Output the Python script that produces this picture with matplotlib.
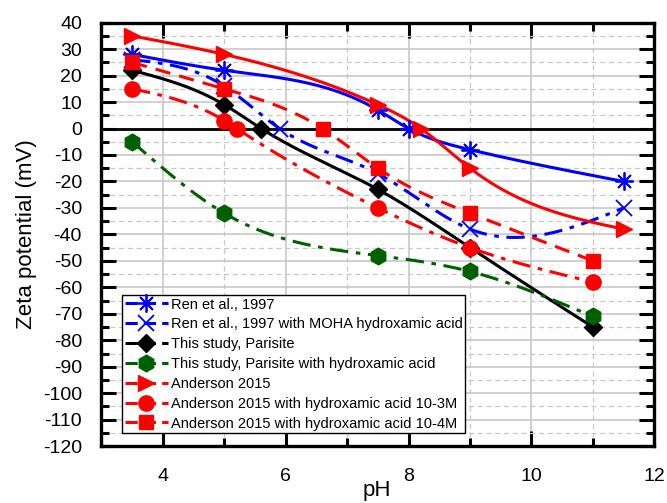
import numpy as np
import matplotlib
matplotlib.use("Agg")
import matplotlib.pyplot as plt
from matplotlib.ticker import MultipleLocator

plt.rcParams['font.family'] = ['Liberation Sans', 'DejaVu Sans']
plt.rcParams['axes.unicode_minus'] = False

# ---- data ----
ren_ph = [3.5, 5.0, 7.5, 8.0, 9.0, 11.5]
ren_zp = [28, 22, 7, 0, -8, -20]

moha_ph = [3.5, 5.0, 5.9, 7.5, 9.0, 11.5]
moha_zp = [26, 16, 0, -17, -38, -30]

par_ph = [3.5, 5.0, 5.6, 7.5, 9.0, 11.0]
par_zp = [22, 9, 0, -23, -45, -75]

parh_ph = [3.5, 5.0, 7.5, 9.0, 11.0]
parh_zp = [-5, -32, -48, -54, -71]

and_ph = [3.5, 5.0, 7.5, 8.2, 9.0, 11.5]
and_zp = [35, 28, 9, 0, -15, -38]

and3_ph = [3.5, 5.0, 5.2, 7.5, 9.0, 11.0]
and3_zp = [15, 3, 0, -30, -45, -58]

and4_ph = [3.5, 5.0, 6.6, 7.5, 9.0, 11.0]
and4_zp = [25, 15, 0, -15, -32, -50]

labels = ["Ren et al., 1997",
          "Ren et al., 1997 with MOHA hydroxamic acid",
          "This study, Parisite",
          "This study, Parisite with hydroxamic acid",
          "Anderson 2015",
          "Anderson 2015 with hydroxamic acid 10-3M",
          "Anderson 2015 with hydroxamic acid 10-4M"]


def natural_spline(x, y, n=300):
    x = np.asarray(x, float)
    y = np.asarray(y, float)
    m = len(x)
    h = np.diff(x)
    A = np.zeros((m, m))
    b = np.zeros(m)
    A[0, 0] = 1
    A[-1, -1] = 1
    for i in range(1, m - 1):
        A[i, i - 1] = h[i - 1]
        A[i, i] = 2 * (h[i - 1] + h[i])
        A[i, i + 1] = h[i]
        b[i] = 6 * ((y[i + 1] - y[i]) / h[i] - (y[i] - y[i - 1]) / h[i - 1])
    M = np.linalg.solve(A, b)
    xs = np.linspace(x[0], x[-1], n)
    idx = np.clip(np.searchsorted(x, xs) - 1, 0, m - 2)
    x0, x1 = x[idx], x[idx + 1]
    hh = x1 - x0
    a = (x1 - xs) / hh
    bb = (xs - x0) / hh
    ys = (a * y[idx] + bb * y[idx + 1]
          + ((a ** 3 - a) * M[idx] + (bb ** 3 - bb) * M[idx + 1]) * hh ** 2 / 6)
    return xs, ys


fig = plt.figure(figsize=(6.67, 5.03), dpi=100)
ax = fig.add_axes([0.152, 0.113, 0.829, 0.842])

blue = '#0000FF'
red = '#FF0000'
green = '#006000'
dashdot = (0, (6, 2.5, 1.5, 2.5))

series = [
    (ren_ph, ren_zp, blue, '-', (8, 2, 0), 13, labels[0], 1.3),
    (moha_ph, moha_zp, blue, dashdot, 'x', 11, labels[1], 1.3),
    (par_ph, par_zp, 'black', '-', 'D', 9, labels[2], None),
    (parh_ph, parh_zp, green, dashdot, 'h', 12, labels[3], None),
    (and_ph, and_zp, red, '-', '>', 12, labels[4], None),
    (and3_ph, and3_zp, red, dashdot, 'o', 11, labels[5], None),
    (and4_ph, and4_zp, red, (0, (5, 3)), 's', 10, labels[6], None),
]

ax.axhline(0, color='black', lw=2, zorder=2)

handles = []
for i, (xs, ys, c, ls, mk, ms, lab, mew) in enumerate(series):
    sx, sy = natural_spline(xs, ys)
    ax.plot(sx, sy, color=c, ls=ls, lw=2.2, zorder=3 + i * 0.1)
    kw = dict(markeredgewidth=mew) if mew else {}
    ax.plot(xs, ys, ls='none', marker=mk, ms=ms, color=c, zorder=5 + i * 0.1, **kw)
    h, = ax.plot([], [], color=c, ls=(0, (4, 2)), lw=2.2, marker=mk, ms=ms,
                 label=lab, **kw)
    handles.append(h)

ax.set_xlim(3, 12)
ax.set_ylim(-120, 40)
ax.xaxis.set_major_locator(MultipleLocator(2))
ax.xaxis.set_minor_locator(MultipleLocator(1))
ax.yaxis.set_major_locator(MultipleLocator(10))
ax.yaxis.set_minor_locator(MultipleLocator(5))

ax.grid(which='major', color='#c4c4c4', lw=1.1, ls='-', zorder=0)
ax.grid(which='minor', color='#c8c8c8', lw=0.9, ls=(0, (4, 3)), zorder=0)
ax.set_axisbelow(True)

ax.tick_params(which='both', direction='in', top=True, right=True, width=2.2,
               labelsize=14)
ax.tick_params(which='major', length=11)
ax.tick_params(which='minor', length=6)
ax.tick_params(axis='y', which='both', pad=14)
ax.tick_params(axis='x', which='both', pad=16)
for s in ax.spines.values():
    s.set_linewidth(2.4)

ax.set_ylabel('Zeta potential (mV)', fontsize=16, labelpad=4)
fig.text(0.565, 0.004, 'pH', fontsize=16, ha='center', va='bottom')

leg = ax.legend(handles=handles, loc='lower left', bbox_to_anchor=(0.038, 0.03),
                borderaxespad=0, fontsize=10.5, frameon=True, fancybox=False,
                edgecolor='black', framealpha=1, handlelength=2.9,
                handletextpad=0.2, labelspacing=0.4, borderpad=0.2)
leg.get_frame().set_linewidth(1.0)
leg.set_zorder(10)

fig.savefig('out.png', dpi=100)
